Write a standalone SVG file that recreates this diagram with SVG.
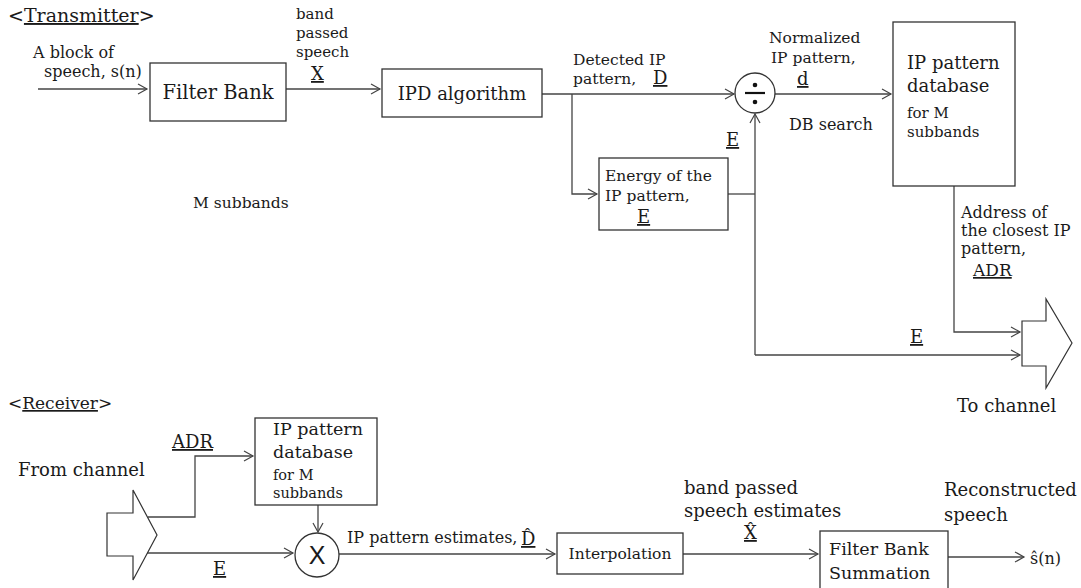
<svg xmlns="http://www.w3.org/2000/svg" width="1081" height="588" viewBox="0 0 1081 588">
<style>
text{font-family:"DejaVu Serif","Liberation Serif",serif;fill:#1a1a1a;font-size:15.5px}
.l{font-size:18px}
.m{font-size:16px}
.s{font-size:15px}
.u{text-decoration:underline}
.box{fill:#fff;stroke:#333;stroke-width:1.3}
.c{fill:none;stroke:#444;stroke-width:1.3}
.big{fill:#fff;stroke:#333;stroke-width:1.2}
</style>
<defs>
<marker id="a" markerUnits="userSpaceOnUse" markerWidth="12" markerHeight="12" refX="10" refY="6" orient="auto">
<path d="M1,1 L10,6 L1,11" fill="none" stroke="#444" stroke-width="1.2"/>
</marker>
</defs>
<rect width="1081" height="588" fill="#fff"/>

<text x="8" y="22" style="font-size:19px">&lt;<tspan class="u">Transmitter</tspan>&gt;</text>
<text x="8" y="409" style="font-size:17px">&lt;<tspan class="u">Receiver</tspan>&gt;</text>

<g id="connectors">
<path class="c" d="M38,89 H147" marker-end="url(#a)"/>
<path class="c" d="M286,89 H380" marker-end="url(#a)"/>
<path class="c" d="M542,94 H734" marker-end="url(#a)"/>
<path class="c" d="M572,94 V194 H597" marker-end="url(#a)"/>
<path class="c" d="M728,194 H755"/>
<path class="c" d="M755,355 V114" marker-end="url(#a)"/>
<path class="c" d="M775,94 H891" marker-end="url(#a)"/>
<path class="c" d="M954,186 V332 H1020" marker-end="url(#a)"/>
<path class="c" d="M755,355 H1020" marker-end="url(#a)"/>
<path class="c" d="M148,517 H195 V456 H253" marker-end="url(#a)"/>
<path class="c" d="M318,505 V532" marker-end="url(#a)"/>
<path class="c" d="M147,553 H293" marker-end="url(#a)"/>
<path class="c" d="M339,554 H555" marker-end="url(#a)"/>
<path class="c" d="M683,554 H818" marker-end="url(#a)"/>
<path class="c" d="M948,557 H1024" marker-end="url(#a)"/>
</g>

<g id="labels">
<text x="33" y="58" class="m">A block of</text>
<text x="44" y="77" class="m">speech, s(n)</text>
<text x="296" y="19" class="s">band</text>
<text x="296" y="38" class="s">passed</text>
<text x="296" y="57" class="s">speech</text>
<text x="311" y="80" class="l u">X</text>
<text x="573" y="65">Detected IP</text>
<text x="573" y="84">pattern,</text>
<text x="653" y="84" class="l u">D</text>
<text x="769" y="43">Normalized</text>
<text x="771" y="63">IP pattern,</text>
<text x="797" y="85" class="l u">d</text>
<text x="789" y="130" class="m">DB search</text>
<text x="726" y="146" class="l u">E</text>
<text x="961" y="218" class="m">Address of</text>
<text x="961" y="236" class="m">the closest IP</text>
<text x="961" y="254" class="m">pattern,</text>
<text x="973" y="276" style="font-size:17px" class="u">ADR</text>
<text x="910" y="343" class="l u">E</text>
<text x="957" y="412" class="l">To channel</text>
<text x="193" y="208">M subbands</text>
<text x="18" y="476" class="l">From channel</text>
<text x="172" y="448" class="l u">ADR</text>
<text x="213" y="575" class="l u">E</text>
<text x="347" y="543" class="m">IP pattern estimates,</text>
<text x="521" y="545" class="l u">D&#x302;</text>
<text x="684" y="494" class="l">band passed</text>
<text x="684" y="517" class="l">speech estimates</text>
<text x="744" y="539" class="l u">X&#x302;</text>
<text x="944" y="496" class="l">Reconstructed</text>
<text x="944" y="521" class="l">speech</text>
<text x="1030" y="564" class="m">s&#x302;(n)</text>
</g>

<g id="filterbank">
<rect class="box" x="150" y="63" width="136" height="58"/>
<text x="218" y="99" style="font-size:19.5px" text-anchor="middle">Filter Bank</text>
</g>
<g id="ipd">
<rect class="box" x="382" y="69" width="160" height="48"/>
<text x="462" y="100" class="l" text-anchor="middle">IPD algorithm</text>
</g>
<g id="energy">
<rect class="box" x="599" y="158" width="129" height="72"/>
<text x="605" y="181">Energy of the</text>
<text x="605" y="201">IP pattern,</text>
<text x="637" y="223" class="l u">E</text>
</g>
<g id="divide">
<circle cx="755" cy="93" r="20" class="box"/>
<line x1="745" y1="93" x2="765" y2="93" stroke="#111" stroke-width="2.2"/>
<circle cx="755" cy="85" r="2.3" fill="#111"/>
<circle cx="755" cy="102" r="2.3" fill="#111"/>
</g>
<g id="txdb">
<rect class="box" x="893" y="22" width="122" height="164"/>
<text x="907" y="69" class="l">IP pattern</text>
<text x="907" y="92" class="l">database</text>
<text x="907" y="118" class="s">for M</text>
<text x="907" y="137" class="s">subbands</text>
</g>
<g id="tochannel">
<polygon class="big" points="1022,321 1046,321 1046,299 1072,343 1046,388 1046,366 1022,366"/>
</g>
<g id="fromchannel">
<polygon class="big" points="107,513 133,513 133,490 157,535 133,580 133,556 107,556"/>
</g>
<g id="rxdb">
<rect class="box" x="255" y="418" width="122" height="87"/>
<text x="273" y="435" style="font-size:17.5px">IP pattern</text>
<text x="273" y="458" style="font-size:17.5px">database</text>
<text x="273" y="480" style="font-size:14.5px">for M</text>
<text x="273" y="498" style="font-size:14.5px">subbands</text>
</g>
<g id="multiply">
<circle cx="317" cy="555" r="22" class="box"/>
<text x="317" y="564" text-anchor="middle" style="font-family:'Liberation Sans',Arial,sans-serif;font-size:25px">X</text>
</g>
<g id="interp">
<rect class="box" x="557" y="533" width="126" height="41"/>
<text x="620" y="559" text-anchor="middle">Interpolation</text>
</g>
<g id="fbsum">
<rect class="box" x="820" y="531" width="128" height="60"/>
<text x="829" y="555" style="font-size:17.5px">Filter Bank</text>
<text x="829" y="579" style="font-size:17.5px">Summation</text>
</g>
</svg>
